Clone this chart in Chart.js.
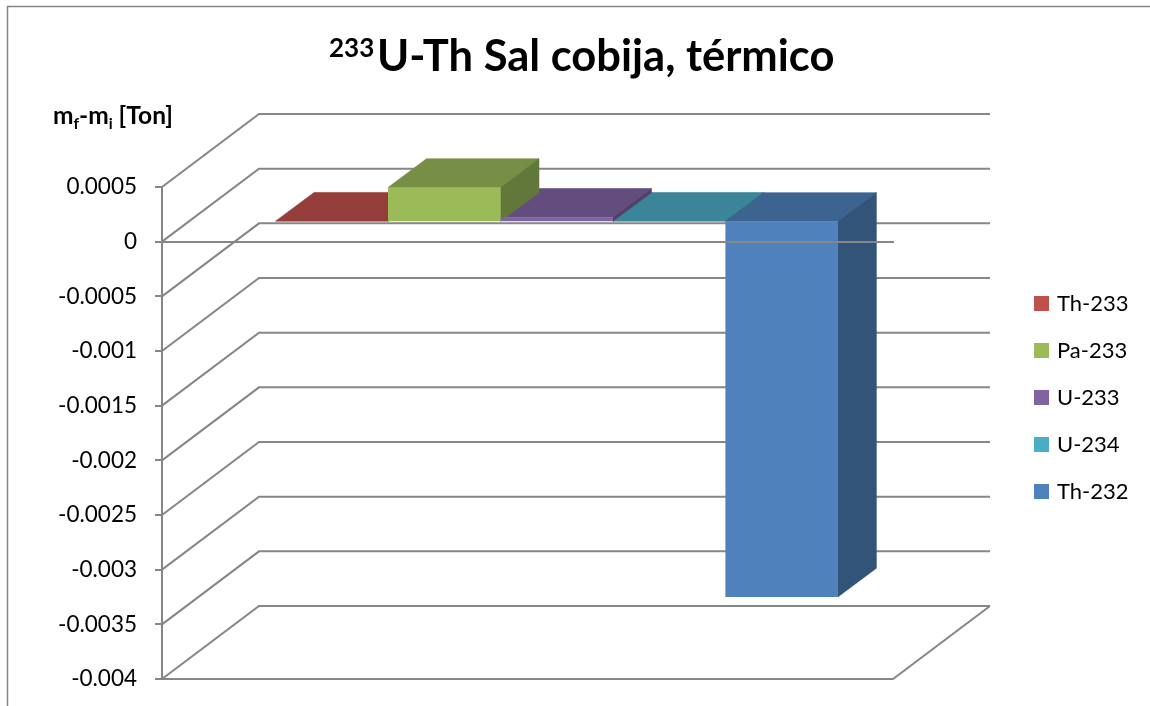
<!DOCTYPE html>
<html lang="es">
<head>
<meta charset="utf-8">
<title>233U-Th Sal cobija, térmico</title>
<style>html,body{margin:0;padding:0;background:#fff}canvas{display:block}</style>
<script src="https://cdn.jsdelivr.net/npm/chart.js@4"></script>
</head>
<body>
<canvas id="c" width="1150" height="706"></canvas>
<script>
const categories = [''];
const seriesNames = ['Th-233', 'Pa-233', 'U-233', 'U-234', 'Th-232'];
const th233 = [0.000002];
const pa233 = [0.00031];
const u233 = [0.000037];
const u234 = [0.000002];
const th232 = [-0.003435];
const seriesValues = [th233, pa233, u233, u234, th232];
const faceColors = ['#c0504d', '#9bbb59', '#8064a2', '#4bacc6', '#4f81bd'];
const topColors = ['#953d3b', '#778f45', '#634d7e', '#3a8599', '#3d6490'];
const sideColors = ['#7b3230', '#62783a', '#513f68', '#2f6d7e', '#325479'];
const yMin = -0.004, yMax = 0.0005, yStep = 0.0005;
const titleSup = '233', titleMain = 'U-Th Sal cobija, térmico';
const axisTitleRuns = [['m', 0], ['f', 1], ['-m', 0], ['i', 1], [' [Ton]', 0]];

const FONT = 'Lato, sans-serif';
const GRID = '#868686';
const WALL = {dx: 97, dy: -73};       // depth of the plot box
const BAR = {ox: 29.2, oy: -20.3, dx: 38.5, dy: -28.7}; // bars sit inside the box

const depth3d = {
  id: 'depth3d',
  beforeDraw(chart) {
    const {ctx, width, height} = chart;
    ctx.save();
    ctx.fillStyle = '#fff';
    ctx.fillRect(0, 0, width, height);
    ctx.strokeStyle = GRID;
    ctx.lineWidth = 1.5;
    ctx.beginPath();
    ctx.moveTo(7.5, height + 2);
    ctx.lineTo(7.5, 6.5);
    ctx.lineTo(width + 2, 6.5);
    ctx.stroke();
    // title
    ctx.fillStyle = '#000';
    ctx.textBaseline = 'alphabetic';
    ctx.font = 'bold 26px ' + FONT;
    ctx.fillText(titleSup, 329, 57);
    ctx.font = 'bold 43.5px ' + FONT;
    ctx.fillText(titleMain, 377, 71);
    // axis title
    let x = 53;
    axisTitleRuns.forEach(([t, sub]) => {
      ctx.font = 'bold ' + (sub ? 15.5 : 24.5) + 'px ' + FONT;
      ctx.fillText(t, x, sub ? 129 : 124);
      x += ctx.measureText(t).width;
    });
    ctx.restore();
  },
  beforeDatasetsDraw(chart) {
    const {ctx, chartArea: a, scales: {y}} = chart;
    ctx.save();
    ctx.strokeStyle = GRID;
    ctx.lineWidth = 2;
    y.ticks.forEach(t => {
      const py = y.getPixelForValue(t.value);
      ctx.beginPath();
      ctx.moveTo(a.left, py);
      ctx.lineTo(a.left + WALL.dx, py + WALL.dy);
      ctx.lineTo(a.right + WALL.dx, py + WALL.dy);
      ctx.stroke();
    });
    ctx.beginPath();
    ctx.moveTo(a.left, a.bottom);
    ctx.lineTo(a.right, a.bottom);
    ctx.lineTo(a.right + WALL.dx, a.bottom + WALL.dy);
    ctx.stroke();
    ctx.restore();

    ctx.save();
    ctx.translate(BAR.ox, BAR.oy);
    ctx.lineWidth = 0.6;
    const rects = chart.data.datasets.map((d, i) => {
      const el = chart.getDatasetMeta(i).data[0];
      const hw = el.width / 2;
      return {l: el.x - hw, r: el.x + hw, top: Math.min(el.y, el.base), bot: Math.max(el.y, el.base)};
    });
    rects.forEach((b, i) => {
      ctx.fillStyle = ctx.strokeStyle = topColors[i];
      ctx.beginPath();
      ctx.moveTo(b.l, b.top);
      ctx.lineTo(b.l + BAR.dx, b.top + BAR.dy);
      ctx.lineTo(b.r + BAR.dx, b.top + BAR.dy);
      ctx.lineTo(b.r, b.top);
      ctx.closePath();
      ctx.fill();
      ctx.stroke();
    });
    rects.forEach((b, i) => {
      ctx.fillStyle = ctx.strokeStyle = sideColors[i];
      ctx.beginPath();
      ctx.moveTo(b.r, b.top);
      ctx.lineTo(b.r + BAR.dx, b.top + BAR.dy);
      ctx.lineTo(b.r + BAR.dx, b.bot + BAR.dy);
      ctx.lineTo(b.r, b.bot);
      ctx.closePath();
      ctx.fill();
      ctx.stroke();
    });
  },
  afterDatasetsDraw(chart) {
    chart.ctx.restore();
  },
  afterLayout(chart) {
    const lg = chart.legend;
    const pad = chart.options.plugins.legend.labels.padding;
    lg.left = 1037 - pad;
    lg.right = 1150;
    lg.top = 292.5 - pad;
    lg.bottom = 706;
  }
};

new Chart(document.getElementById('c'), {
  type: 'bar',
  data: {
    labels: categories,
    datasets: seriesNames.map((name, i) => ({
      label: name,
      data: seriesValues[i],
      backgroundColor: faceColors[i],
      borderWidth: 0,
      pointStyle: 'rect',
      base: 1e-12,
      clip: false
    }))
  },
  plugins: [depth3d],
  options: {
    responsive: false,
    animation: false,
    layout: {padding: {left: 0, right: 257, top: 187, bottom: 27}},
    datasets: {bar: {categoryPercentage: 1 / 1.3, barPercentage: 1}},
    scales: {
      x: {
        type: 'category',
        position: {y: 0},
        grid: {display: false},
        ticks: {display: false},
        border: {display: true, color: GRID, width: 2, z: 1}
      },
      y: {
        min: yMin, max: yMax,
        afterFit(s) { s.width = 162; s.paddingTop = 0; s.paddingBottom = 0; },
        grid: {drawOnChartArea: false, drawTicks: true, tickLength: 7, color: GRID, lineWidth: 2},
        border: {display: true, color: GRID, width: 2},
        ticks: {
          stepSize: yStep,
          padding: 18,
          color: '#000',
          font: {family: FONT, size: 22.5},
          callback: v => String(parseFloat(Number(v).toFixed(4)))
        }
      }
    },
    plugins: {
      title: {display: false},
      tooltip: {enabled: false},
      legend: {
        display: true,
        position: 'chartArea',
        align: 'start',
        labels: {
          usePointStyle: true,
          boxWidth: 9,
          boxHeight: 15,
          padding: 25,
          color: '#000',
          font: {family: FONT, size: 22}
        }
      }
    }
  }
});
</script>
</body>
</html>
